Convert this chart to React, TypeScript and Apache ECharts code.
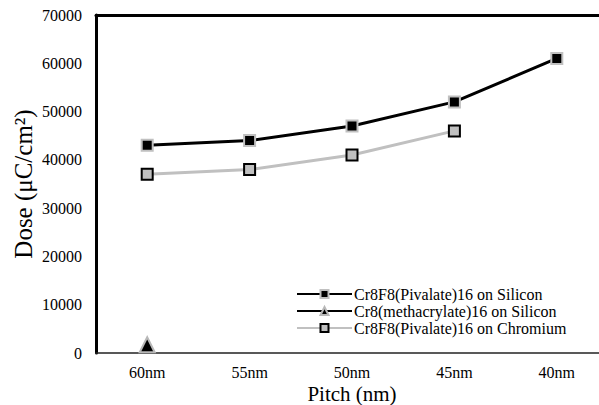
import React, { useEffect, useRef } from "react";
import * as echarts from "echarts";

const categories = ["60nm", "55nm", "50nm", "45nm", "40nm"];
const pivalateSilicon = [43000, 44000, 47000, 52000, 61000];
const methacrylateSilicon = [1700, null, null, null, null];
const pivalateChromium = [37000, 38000, 41000, 46000, null];
const seriesNames = [
  "Cr8F8(Pivalate)16 on Silicon",
  "Cr8(methacrylate)16 on Silicon",
  "Cr8F8(Pivalate)16 on Chromium",
];

const FONT = "Liberation Serif";

export default function App() {
  const ref = useRef<HTMLDivElement>(null);
  useEffect(() => {
    const chart = echarts.init(ref.current!, null, { renderer: "svg" });
    chart.setOption({
      animation: false,
      backgroundColor: "#fff",
      textStyle: { fontFamily: FONT },
      grid: { left: 96, top: 15, width: 512, height: 338, outerBoundsMode: "none", containLabel: false },
      legend: {
        orient: "vertical",
        left: 296,
        top: 286,
        padding: 0,
        itemWidth: 55,
        itemHeight: 10,
        itemGap: 1,
        textStyle: { fontFamily: FONT, fontSize: 16, color: "#000", padding: [0, 0, 0, -3] },
        data: seriesNames,
      },
      xAxis: [
        {
          type: "category",
          data: categories,
          boundaryGap: true,
          axisLine: { show: true, lineStyle: { color: "#222", width: 1.5 } },
          axisTick: { show: false },
          axisLabel: { fontFamily: FONT, fontSize: 16, color: "#000", margin: 11, lineHeight: 16 },
          name: "Pitch (nm)",
          nameLocation: "middle",
          nameGap: 30,
          nameMoveOverlap: false,
          nameTextStyle: { fontFamily: FONT, fontSize: 21, color: "#000", lineHeight: 21 },
        },
        {
          type: "category",
          position: "top",
          data: categories,
          axisLine: { show: true, lineStyle: { color: "#000", width: 3 } },
          axisTick: { show: false },
          axisLabel: { show: false },
        },
      ],
      yAxis: {
        type: "value",
        min: 0,
        max: 70000,
        interval: 10000,
        splitLine: { show: false },
        axisLine: { show: true, lineStyle: { color: "#000", width: 3 } },
        axisTick: { show: false },
        axisLabel: {
          fontFamily: FONT,
          fontSize: 16,
          color: "#000",
          margin: 14,
          formatter: (v: number) => String(v),
        },
        name: "Dose (μC/cm²)",
        nameLocation: "middle",
        nameGap: 60,
        nameMoveOverlap: false,
        nameTextStyle: { fontFamily: FONT, fontSize: 25, color: "#000" },
      },
      series: [
        {
          name: seriesNames[0],
          type: "line",
          data: pivalateSilicon,
          symbol: "rect",
          symbolSize: 11,
          lineStyle: { color: "#000", width: 3 },
          itemStyle: { color: "#000", borderColor: "#c0c0c0", borderWidth: 2 },
          z: 3,
        },
        {
          name: seriesNames[1],
          type: "line",
          data: methacrylateSilicon,
          symbol: "triangle",
          symbolSize: 15,
          lineStyle: { color: "#000", width: 5 },
          itemStyle: { color: "#000", borderColor: "#b8b8b8", borderWidth: 2 },
          z: 4,
        },
        {
          name: seriesNames[2],
          type: "line",
          data: pivalateChromium,
          symbol: "rect",
          symbolSize: 11,
          lineStyle: { color: "#c0c0c0", width: 3 },
          itemStyle: { color: "#c0c0c0", borderColor: "#000", borderWidth: 2 },
          z: 2,
        },
      ],
    });
    return () => chart.dispose();
  }, []);
  return <div ref={ref} style={{ width: 599, height: 405, position: "absolute", left: 0, top: 0 }} />;
}
